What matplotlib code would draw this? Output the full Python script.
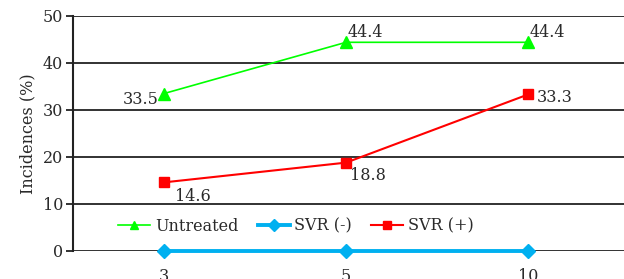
import numpy as np
import matplotlib
matplotlib.use("Agg")
import matplotlib.pyplot as plt

categories = ["3", "5", "10"]
untreated = [33.5, 44.4, 44.4]
svr_neg = [0, 0, 0]
svr_pos = [14.6, 18.8, 33.3]

plt.rcParams['font.family'] = ['DejaVu Serif']
plt.rcParams['font.size'] = 11.5
plt.rcParams['text.color'] = '#2a2a2a'
plt.rcParams['axes.labelcolor'] = '#2a2a2a'
plt.rcParams['ytick.labelcolor'] = '#2a2a2a'
plt.rcParams['xtick.labelcolor'] = '#2a2a2a'

fig = plt.figure(figsize=(6.24, 2.79), dpi=100)
ax = fig.add_axes([0.117, 0.1004, 0.883, 0.8423])

x = np.arange(len(categories))

# gridlines
ax.set_ylim(0, 50)
ax.set_xlim(-0.5, 2.527)
ax.set_yticks(np.arange(0, 51, 10))
ax.yaxis.grid(True, color='#222222', linewidth=1.3)
ax.set_axisbelow(True)

ax.plot(x, untreated, color='#00ff00', linewidth=1.2, marker='^', markersize=8, label='Untreated', clip_on=False, zorder=3)
ax.plot(x, svr_neg, color='#00b0f0', linewidth=2.8, marker='D', markersize=7.5, label='SVR (-)', clip_on=False, zorder=3)
ax.plot(x, svr_pos, color='#ff0000', linewidth=1.5, marker='s', markersize=7.5, label='SVR (+)', clip_on=False, zorder=3)

# data labels
ax.annotate(f"{untreated[0]}", (x[0], untreated[0]), xytext=(-4, -4), textcoords='offset points', ha='right', va='center')
for i in (1, 2):
    ax.annotate(f"{untreated[i]}", (x[i], untreated[i]), xytext=(1, 7), textcoords='offset points', ha='left', va='center')
ax.annotate(f"{svr_pos[0]}", (x[0], svr_pos[0]), xytext=(8, -10), textcoords='offset points', ha='left', va='center')
ax.annotate(f"{svr_pos[1]}", (x[1], svr_pos[1]), xytext=(3, -9), textcoords='offset points', ha='left', va='center')
ax.annotate(f"{svr_pos[2]}", (x[2], svr_pos[2]), xytext=(6, -2), textcoords='offset points', ha='left', va='center')

ax.set_xticks(x)
ax.set_xticklabels(categories)
ax.tick_params(axis='x', length=0, pad=12)
ax.tick_params(axis='y', length=5, width=1.3, color='#222222', pad=2)

for s in ('top', 'right', 'bottom'):
    ax.spines[s].set_visible(False)
ax.spines['left'].set_linewidth(1.5)
ax.spines['left'].set_color('#222222')

ax.set_ylabel("Incidences (%)", labelpad=5)

ax.legend(loc='center', bbox_to_anchor=(0.405, 0.105), ncol=3, frameon=False,
          handlelength=2.0, handletextpad=0.3, columnspacing=1.2, markerscale=0.8)

fig.savefig("out.png", dpi=100)
